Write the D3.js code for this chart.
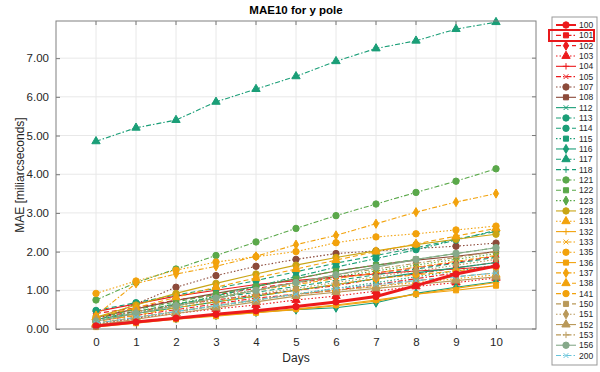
<!DOCTYPE html>
<html>
<head>
<meta charset="utf-8">
<script src="https://cdn.jsdelivr.net/npm/d3@7"></script>
<style>
  body { margin: 0; background: #fff; }
  svg { display: block; font-family: "Liberation Sans", Arial, sans-serif; }
</style>
</head>
<body>
<svg id="chart" width="600" height="372"></svg>
<script>
// days on the x axis
var days = [0, 1, 2, 3, 4, 5, 6, 7, 8, 9, 10];
var yTicks = [0, 1, 2, 3, 4, 5, 6, 7];

// station ids (legend order)
var stations = ['100','101','102','103','104','105','107','108','112','113','114','115','116','117','118',
                '121','122','123','128','131','132','133','135','136','137','138','141','150','151','152','153','156','200'];

// MAE values per station
var s100 = [0.08, 0.18, 0.28, 0.38, 0.47, 0.58, 0.70, 0.84, 1.12, 1.42, 1.63];
var s101 = [0.30, 0.45, 0.62, 0.75, 0.88, 1.00, 1.12, 1.30, 1.42, 1.58, 1.72];
var s102 = [0.40, 0.55, 0.75, 0.88, 1.05, 1.20, 1.32, 1.45, 1.58, 1.72, 1.88];
var s103 = [0.12, 0.28, 0.40, 0.52, 0.62, 0.75, 0.85, 0.98, 1.10, 1.20, 1.32];
var s104 = [0.45, 0.65, 0.85, 1.00, 1.15, 1.25, 1.35, 1.42, 1.50, 1.55, 1.62];
var s105 = [0.20, 0.35, 0.50, 0.65, 0.80, 0.90, 1.00, 1.15, 1.30, 1.45, 1.60];
var s107 = [0.20, 0.65, 1.08, 1.38, 1.62, 1.80, 1.95, 2.02, 2.08, 2.14, 2.22];
var s108 = [0.30, 0.52, 0.74, 0.92, 1.10, 1.30, 1.50, 1.65, 1.78, 1.88, 2.00];
var s112 = [0.25, 0.40, 0.55, 0.70, 0.85, 1.00, 1.15, 1.30, 1.45, 1.58, 1.72];
var s113 = [0.20, 0.40, 0.62, 0.85, 1.10, 1.35, 1.60, 1.82, 2.05, 2.30, 2.55];
var s114 = [0.48, 0.68, 0.88, 1.05, 1.25, 1.48, 1.70, 1.90, 2.10, 2.32, 2.52];
var s115 = [0.15, 0.30, 0.45, 0.60, 0.75, 0.90, 1.05, 1.20, 1.35, 1.50, 1.65];
var s116 = [0.10, 0.20, 0.28, 0.36, 0.44, 0.50, 0.55, 0.68, 0.92, 1.08, 1.22];
var s117 = [4.85, 5.20, 5.40, 5.87, 6.20, 6.53, 6.92, 7.25, 7.45, 7.75, 7.93];
var s118 = [0.25, 0.45, 0.65, 0.80, 0.95, 1.10, 1.25, 1.40, 1.55, 1.70, 1.85];
var s121 = [0.75, 1.20, 1.55, 1.90, 2.25, 2.60, 2.93, 3.23, 3.53, 3.82, 4.14];
var s122 = [0.30, 0.50, 0.70, 0.90, 1.10, 1.30, 1.50, 1.65, 1.80, 1.95, 2.10];
var s123 = [0.25, 0.45, 0.65, 0.85, 1.00, 1.20, 1.35, 1.50, 1.65, 1.80, 1.95];
var s128 = [0.30, 0.62, 0.92, 1.18, 1.42, 1.65, 1.85, 2.02, 2.18, 2.32, 2.45];
var s131 = [0.15, 0.30, 0.45, 0.60, 0.75, 0.90, 1.00, 1.10, 1.20, 1.30, 1.40];
var s132 = [0.10, 0.20, 0.28, 0.35, 0.42, 0.50, 0.60, 0.72, 0.90, 1.05, 1.20];
var s133 = [0.20, 0.40, 0.60, 0.80, 1.00, 1.15, 1.30, 1.45, 1.60, 1.75, 1.90];
var s135 = [0.92, 1.24, 1.52, 1.73, 1.87, 2.00, 2.23, 2.38, 2.46, 2.56, 2.66];
var s136 = [0.05, 0.15, 0.25, 0.33, 0.42, 0.52, 0.62, 0.75, 0.90, 1.00, 1.12];
var s137 = [0.35, 1.18, 1.42, 1.62, 1.88, 2.18, 2.42, 2.72, 3.02, 3.28, 3.50];
var s138 = [0.30, 0.55, 0.82, 1.08, 1.32, 1.55, 1.78, 2.00, 2.20, 2.40, 2.60];
var s141 = [0.20, 0.35, 0.55, 0.70, 0.85, 1.00, 1.15, 1.30, 1.40, 1.50, 1.60];
var s150 = [0.15, 0.30, 0.45, 0.60, 0.75, 0.90, 1.00, 1.10, 1.25, 1.35, 1.45];
var s151 = [0.25, 0.45, 0.60, 0.75, 0.90, 1.05, 1.20, 1.35, 1.50, 1.65, 1.80];
var s152 = [0.10, 0.25, 0.40, 0.55, 0.70, 0.85, 0.95, 1.05, 1.15, 1.25, 1.35];
var s153 = [0.20, 0.40, 0.60, 0.80, 1.00, 1.20, 1.40, 1.55, 1.70, 1.85, 2.00];
var s156 = [0.20, 0.40, 0.60, 0.80, 1.00, 1.20, 1.40, 1.60, 1.80, 1.95, 2.10];
var s200 = [0.15, 0.30, 0.45, 0.60, 0.75, 0.90, 1.05, 1.15, 1.25, 1.35, 1.45];

var values = [s100, s101, s102, s103, s104, s105, s107, s108, s112, s113, s114, s115, s116, s117, s118,
              s121, s122, s123, s128, s131, s132, s133, s135, s136, s137, s138, s141, s150, s151, s152, s153, s156, s200];

// styling per station group
var RED = '#ec1a1c', BROWN = '#8c4a3a', TEAL = '#1a9e77', GREEN = '#5aa84a', OLIVE = '#c9a514',
    ORANGE = '#f2a20c', TAN = '#b9995a', GRAYG = '#86a98a', BLUE = '#66c3da';
var colors = [RED, RED, RED, RED, RED, RED, BROWN, BROWN, TEAL, TEAL, TEAL, TEAL, TEAL, TEAL, TEAL,
              GREEN, GREEN, GREEN, OLIVE, ORANGE, ORANGE, ORANGE, ORANGE, ORANGE, ORANGE, ORANGE, ORANGE,
              TAN, TAN, TAN, TAN, GRAYG, BLUE];
var dashes = ['-', '-.', '--', ':', '-', '-.', ':', '-', '-', '-.', '--', ':', '-', '-.', '--',
              '-.', '--', ':', '-', ':', '-', '-.', ':', '-', '-.', '--', '--',
              '--', ':', '-', '-.', '-', '-.'];
var markers = ['o', 's', 'd', '^', '+', 'x', 'o', 's', 'x', 'o', 'o', 's', 'd', '^', '+',
               'o', 's', 'd', 'o', '^', '+', 'x', 'o', 's', 'd', '^', 'o',
               's', 'd', '^', '+', 'o', 'x'];

var dashArr = { '-': null, '--': '5,3', ':': '1.5,2', '-.': '5,2,1.5,2' };

var svg = d3.select('#chart');
var margin = { left: 56, right: 536, top: 21, bottom: 329 };

var x = d3.scaleLinear().domain([-1, 11]).range([margin.left, margin.right]);
var y = d3.scaleLinear().domain([0, 7.96]).range([margin.bottom, margin.top]);

// grid
var grid = svg.append('g');
grid.selectAll('.gx').data(days).enter().append('line')
    .attr('x1', function(d) { return x(d); }).attr('x2', function(d) { return x(d); })
    .attr('y1', margin.top).attr('y2', margin.bottom)
    .attr('stroke', '#e8e8e8').attr('stroke-width', 1);
grid.selectAll('.gy').data(yTicks.slice(1)).enter().append('line')
    .attr('x1', margin.left).attr('x2', margin.right)
    .attr('y1', function(d) { return y(d); }).attr('y2', function(d) { return y(d); })
    .attr('stroke', '#e8e8e8').attr('stroke-width', 1);

// axes (MATLAB look: ticks inside, box)
var xAxis = d3.axisBottom(x).tickValues(days).tickSizeInner(-4).tickSizeOuter(0).tickPadding(9);
var yAxis = d3.axisLeft(y).tickValues(yTicks).tickFormat(d3.format('.2f')).tickSizeInner(-4).tickSizeOuter(0).tickPadding(7);
var gx = svg.append('g').attr('transform', 'translate(0,' + margin.bottom + ')').call(xAxis);
var gy = svg.append('g').attr('transform', 'translate(' + margin.left + ',0)').call(yAxis);
[gx, gy].forEach(function(g) {
  g.select('.domain').remove();
  g.selectAll('line').attr('stroke', '#777');
  g.selectAll('text').attr('fill', '#262626').style('font-size', '11.5px');
});
// top ticks too
svg.append('g').selectAll('line').data(days).enter().append('line')
    .attr('x1', function(d) { return x(d); }).attr('x2', function(d) { return x(d); })
    .attr('y1', margin.top).attr('y2', margin.top + 4).attr('stroke', '#777');
svg.append('g').selectAll('line').data(yTicks).enter().append('line')
    .attr('x1', margin.right).attr('x2', margin.right - 4)
    .attr('y1', function(d) { return y(d); }).attr('y2', function(d) { return y(d); }).attr('stroke', '#777');

// series
var line = d3.line().x(function(d, i) { return x(days[i]); }).y(function(d) { return y(d); });

function markerPath(m, size) {
  var r = size;
  if (m === '+') return 'M' + (-r) + ',0H' + r + 'M0,' + (-r) + 'V' + r;
  if (m === 'x') { var k = r * 0.75; return 'M' + (-k) + ',' + (-k) + 'L' + k + ',' + k + 'M' + (-k) + ',' + k + 'L' + k + ',' + (-k); }
  var sym = { 'o': d3.symbolCircle, 's': d3.symbolSquare, 'd': d3.symbolDiamond, '^': d3.symbolTriangle }[m];
  var area = { 'o': 32, 's': 26, 'd': 24, '^': 30 }[m];
  return d3.symbol().type(sym).size(area)();
}

var plot = svg.append('g');
// draw the highlighted station last so it sits on top
var order = d3.range(stations.length).slice(1).concat([0]);
order.forEach(function(i) {
  var thick = stations[i] === '100';
  var g = plot.append('g');
  g.append('path').datum(values[i])
    .attr('d', line)
    .attr('fill', 'none')
    .attr('stroke', colors[i])
    .attr('stroke-width', thick ? 3 : 1.1)
    .attr('stroke-dasharray', dashArr[dashes[i]]);
  g.selectAll('path.m').data(values[i]).enter().append('path')
    .attr('class', 'm')
    .attr('transform', function(d, j) { return 'translate(' + x(days[j]) + ',' + y(d) + ')'; })
    .attr('d', markerPath(markers[i], 3.4))
    .attr('fill', (markers[i] === '+' || markers[i] === 'x') ? 'none' : colors[i])
    .attr('stroke', colors[i])
    .attr('stroke-width', 1);
});

// frame
svg.append('rect').attr('x', margin.left).attr('y', margin.top)
  .attr('width', margin.right - margin.left).attr('height', margin.bottom - margin.top)
  .attr('fill', 'none').attr('stroke', '#808080').attr('stroke-width', 1);

// labels
svg.append('text').attr('x', (margin.left + margin.right) / 2).attr('y', 14)
  .attr('text-anchor', 'middle').style('font-size', '11.5px').style('font-weight', 'bold')
  .attr('fill', '#000').text('MAE10 for y pole');
svg.append('text').attr('x', (margin.left + margin.right) / 2).attr('y', 362)
  .attr('text-anchor', 'middle').style('font-size', '12px').attr('fill', '#262626').text('Days');
svg.append('text').attr('transform', 'translate(24,' + ((margin.top + margin.bottom) / 2) + ') rotate(-90)')
  .attr('text-anchor', 'middle').style('font-size', '12px').attr('fill', '#262626').text('MAE [miliarcseconds]');

// legend
var lgX = 552, lgY = 17, lgStep = 10.33;
svg.append('rect').attr('x', lgX).attr('y', lgY).attr('width', 45).attr('height', 348)
  .attr('fill', '#fff').attr('stroke', '#999').attr('stroke-width', 1);
var lg = svg.append('g');
stations.forEach(function(s, i) {
  var cy = 25 + i * lgStep;
  var row = lg.append('g');
  row.append('line').attr('x1', lgX + 4).attr('x2', lgX + 24).attr('y1', cy).attr('y2', cy)
    .attr('stroke', colors[i]).attr('stroke-width', s === '100' ? 2 : 1.1)
    .attr('stroke-dasharray', dashArr[dashes[i]]);
  row.append('path').attr('transform', 'translate(' + (lgX + 14) + ',' + cy + ')')
    .attr('d', markerPath(markers[i], 3.2))
    .attr('fill', (markers[i] === '+' || markers[i] === 'x') ? 'none' : colors[i])
    .attr('stroke', colors[i]);
  row.append('text').attr('x', lgX + 27).attr('y', cy + 3).style('font-size', '8.5px')
    .attr('fill', '#262626').text(s);
});
// red highlight around station 101
svg.append('rect').attr('x', 549).attr('y', 30).attr('width', 45).attr('height', 11)
  .attr('fill', 'none').attr('stroke', '#e8191c').attr('stroke-width', 2);
</script>
</body>
</html>
